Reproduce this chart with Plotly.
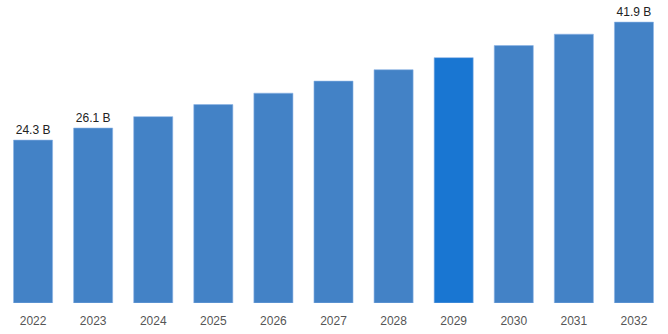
import plotly.graph_objects as go

years = ["2022", "2023", "2024", "2025", "2026", "2027", "2028", "2029", "2030", "2031", "2032"]
values = [24.3, 26.1, 27.8, 29.6, 31.3, 33.1, 34.8, 36.6, 38.4, 40.1, 41.9]
labels = ["24.3 B", "26.1 B", "", "", "", "", "", "", "", "", "41.9 B"]
base_color = "#4382C6"
highlight_color = "#1976D2"
highlight_year = "2029"

colors = [highlight_color if y == highlight_year else base_color for y in years]

fig = go.Figure(go.Bar(
    x=years, y=values, text=labels, textposition="outside",
    textfont=dict(size=12, color="#222222", family="Liberation Sans, Arial, sans-serif"),
    marker=dict(color=colors, line=dict(color="rgba(140,180,230,0.6)", width=1)),
    width=0.65, cliponaxis=False, hoverinfo="x+y",
))

fig.update_layout(
    width=668, height=334,
    margin=dict(l=3, r=4, t=0, b=31),
    paper_bgcolor="white", plot_bgcolor="white",
    showlegend=False,
    font=dict(family="Liberation Sans, Arial, sans-serif"),
    xaxis=dict(type="category", showgrid=False, zeroline=False, showline=False,
               ticks="", ticklabelstandoff=9, tickfont=dict(size=12, color="#555555")),
    yaxis=dict(range=[0, 45.2], visible=False, showgrid=False, zeroline=False),
    bargap=0.35,
)

fig.write_html("out.html")
